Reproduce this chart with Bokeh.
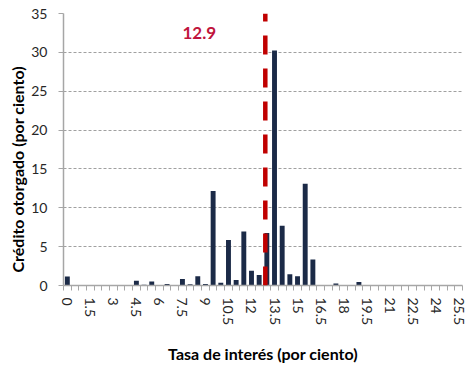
from bokeh.plotting import figure
from bokeh.models import FixedTicker, Range1d, Label, Span, Title
from bokeh.embed import file_html
from bokeh.resources import INLINE

# Interest rate bins (percent) and share of credit granted in each bin (percent)
rates = [i * 0.5 for i in range(52)]
credit = [
    1.15, 0, 0, 0, 0, 0, 0, 0, 0, 0.6,
    0.1, 0.5, 0, 0.2, 0, 0.85, 0.15, 1.2, 0.2, 12.15,
    0.35, 5.85, 0.7, 6.95, 1.9, 1.35, 6.75, 30.25, 7.7, 1.45,
    1.2, 13.1, 3.35, 0, 0.05, 0.25, 0, 0, 0.45, 0,
    0, 0.05, 0, 0, 0, 0, 0, 0, 0, 0,
    0, 0,
]
x_tick_values = [i * 1.5 for i in range(18)]
y_tick_values = [0, 5, 10, 15, 20, 25, 30, 35]
average_rate = 12.9
x_title = "Tasa de interés (por ciento)"
y_title = "Crédito otorgado (por ciento)"

FONT = "Lato"
TEXT = "#262626"
AXIS_GRAY = "#A6A6A6"

p = figure(
    width=469, height=366,
    x_range=Range1d(-0.25, 25.75), y_range=Range1d(0, 35),
    output_backend="svg", toolbar_location=None,
    min_border_left=63, min_border_right=7, min_border_top=13, min_border_bottom=80,
)
p.outline_line_color = None
p.background_fill_color = "white"
p.border_fill_color = "white"

p.vbar(x=rates, top=credit, width=0.32, color="#1B2A47", line_color=None)

# Weighted average rate marker
p.add_layout(Span(location=average_rate, dimension="height", line_color="#C00000",
                  line_width=4.5, line_dash="19 14", line_dash_offset=11))
p.add_layout(Label(x=8.6, y=32.5, text=f"{average_rate}", text_color="#C0143C",
                   text_font=FONT, text_font_style="bold", text_font_size="17px",
                   text_align="center", text_baseline="middle"))

# Grid
p.xgrid.grid_line_color = None
p.ygrid.ticker = FixedTicker(ticks=y_tick_values)
p.ygrid.grid_line_color = "#A0A0A0"
p.ygrid.grid_line_dash = "3 2"
p.ygrid.grid_line_width = 1

# X axis: labels every 1.5, tick marks on bin boundaries
p.xaxis.ticker = FixedTicker(ticks=x_tick_values,
                             minor_ticks=[-0.25 + 0.5 * k for k in range(53)])
p.xaxis.major_label_overrides = {v: (f"{v:g}") for v in x_tick_values}
p.xaxis.major_label_orientation = "vertical"
p.xaxis.major_tick_line_color = None
p.xaxis.major_tick_out = 5
p.xaxis.major_tick_in = 0
p.xaxis.minor_tick_line_color = AXIS_GRAY
p.xaxis.minor_tick_out = 5
p.xaxis.minor_tick_in = 0
p.xaxis.major_label_standoff = 7
p.xaxis.axis_label = x_title
p.xaxis.axis_label_standoff = 16

# Y axis
p.yaxis.ticker = FixedTicker(ticks=y_tick_values)
p.yaxis.major_tick_line_color = AXIS_GRAY
p.yaxis.major_tick_out = 5
p.yaxis.major_tick_in = 0
p.yaxis.minor_tick_line_color = None
p.yaxis.major_label_standoff = 11

for ax in (p.xaxis, p.yaxis):
    ax.axis_line_color = AXIS_GRAY
    ax.axis_line_width = 1.5
    ax.major_label_text_font = FONT
    ax.major_label_text_font_size = "14px"
    ax.major_label_text_color = TEXT
    ax.axis_label_text_font = FONT
    ax.axis_label_text_font_size = "16px"
    ax.axis_label_text_font_style = "bold"
    ax.axis_label_text_color = "#000000"

# Vertical title anchored near the bottom of the frame
p.add_layout(Title(text=y_title, align="left", offset=13, standoff=4,
                   text_font=FONT, text_font_style="bold", text_font_size="16px",
                   text_color="#000000"), "left")

open("out.html", "w").write(file_html(p, INLINE))
